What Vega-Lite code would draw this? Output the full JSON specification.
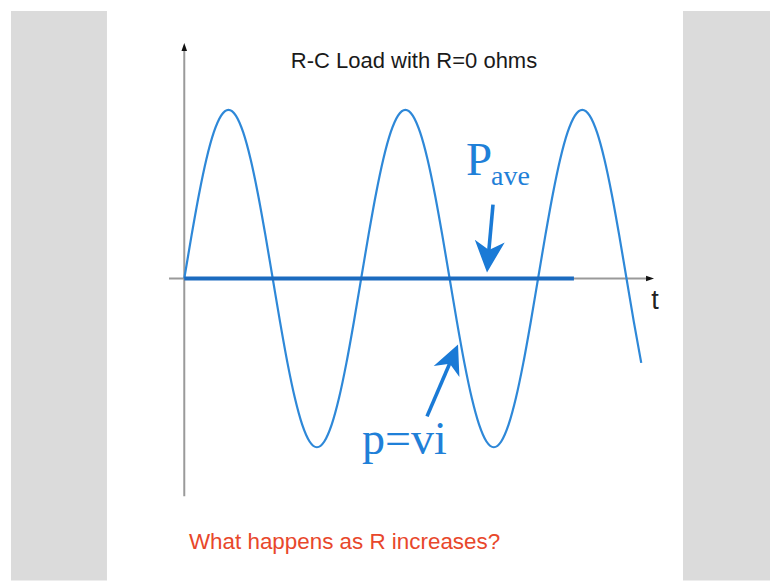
{
  "$schema": "https://vega.github.io/schema/vega-lite/v6.json",
  "width": 770,
  "height": 581,
  "autosize": {"type": "fit", "contains": "padding"},
  "padding": 0,
  "background": "#ffffff",
  "config": {"view": {"stroke": null}},
  "datasets": {
    "panels": [
      {"x": -352.6, "x2": -157.3, "y": 1.586, "y2": -1.79},
      {"x": 1015, "x2": 1192, "y": 1.586, "y2": -1.79}
    ],
    "axes": [
      {"x": 0, "x2": 0, "y": 1.37, "y2": -1.29},
      {"x": -31, "x2": 948, "y": 0, "y2": 0}
    ],
    "yTip": [{"x": 0, "y": 1.396}],
    "tTip": [{"x": 956, "y": 0}],
    "power": [
      {"x": 0, "y": 0}, {"x": 15, "y": 0.2588}, {"x": 30, "y": 0.5}, {"x": 45, "y": 0.7071},
      {"x": 60, "y": 0.866}, {"x": 75, "y": 0.9659}, {"x": 90, "y": 1}, {"x": 105, "y": 0.9659},
      {"x": 120, "y": 0.866}, {"x": 135, "y": 0.7071}, {"x": 150, "y": 0.5}, {"x": 165, "y": 0.2588},
      {"x": 180, "y": 0}, {"x": 195, "y": -0.2588}, {"x": 210, "y": -0.5}, {"x": 225, "y": -0.7071},
      {"x": 240, "y": -0.866}, {"x": 255, "y": -0.9659}, {"x": 270, "y": -1}, {"x": 285, "y": -0.9659},
      {"x": 300, "y": -0.866}, {"x": 315, "y": -0.7071}, {"x": 330, "y": -0.5}, {"x": 345, "y": -0.2588},
      {"x": 360, "y": 0}, {"x": 375, "y": 0.2588}, {"x": 390, "y": 0.5}, {"x": 405, "y": 0.7071},
      {"x": 420, "y": 0.866}, {"x": 435, "y": 0.9659}, {"x": 450, "y": 1}, {"x": 465, "y": 0.9659},
      {"x": 480, "y": 0.866}, {"x": 495, "y": 0.7071}, {"x": 510, "y": 0.5}, {"x": 525, "y": 0.2588},
      {"x": 540, "y": 0}, {"x": 555, "y": -0.2588}, {"x": 570, "y": -0.5}, {"x": 585, "y": -0.7071},
      {"x": 600, "y": -0.866}, {"x": 615, "y": -0.9659}, {"x": 630, "y": -1}, {"x": 645, "y": -0.9659},
      {"x": 660, "y": -0.866}, {"x": 675, "y": -0.7071}, {"x": 690, "y": -0.5}, {"x": 705, "y": -0.2588},
      {"x": 720, "y": 0}, {"x": 735, "y": 0.2588}, {"x": 750, "y": 0.5}, {"x": 765, "y": 0.7071},
      {"x": 780, "y": 0.866}, {"x": 795, "y": 0.9659}, {"x": 810, "y": 1}, {"x": 825, "y": 0.9659},
      {"x": 840, "y": 0.866}, {"x": 855, "y": 0.7071}, {"x": 870, "y": 0.5}, {"x": 885, "y": 0.2588},
      {"x": 900, "y": 0}, {"x": 915, "y": -0.2588}, {"x": 930, "y": -0.5}
    ],
    "average": [{"x": 0, "x2": 793, "y": 0, "y2": 0}],
    "shafts": [
      {"x": 628.3, "y": 0.438, "x2": 619.1, "y2": 0.142},
      {"x": 494, "y": -0.817, "x2": 548.9, "y2": -0.444}
    ],
    "paveHead": [{"x": 616.1, "y": 0.0355}],
    "pviHead": [{"x": 557.1, "y": -0.391}],
    "title": [{"x": 467.5, "y": 1.249, "label": "R-C Load with R=0 ohms"}],
    "tLabel": [{"x": 958, "y": -0.183, "label": "t"}],
    "pMain": [{"x": 573.3, "y": 0.615, "label": "P"}],
    "pSub": [{"x": 624.2, "y": 0.556, "label": "ave"}],
    "pvi": [{"x": 361.8, "y": -1.041, "label": "p=vi"}],
    "question": [{"x": 9.6, "y": -1.604, "label": "What happens as R increases?"}]
  },
  "encoding": {
    "x": {"field": "x", "type": "quantitative", "scale": {"domain": [-375, 1192], "nice": false, "zero": false}, "axis": null},
    "y": {"field": "y", "type": "quantitative", "scale": {"domain": [-1.787, 1.651], "nice": false, "zero": false}, "axis": null}
  },
  "layer": [
    {
      "data": {"name": "panels"},
      "mark": {"type": "rect", "color": "#dbdbdb"},
      "encoding": {"x2": {"field": "x2"}, "y2": {"field": "y2"}}
    },
    {
      "data": {"name": "axes"},
      "mark": {"type": "rule", "color": "#9a9a9a", "strokeWidth": 2},
      "encoding": {"x2": {"field": "x2"}, "y2": {"field": "y2"}}
    },
    {
      "data": {"name": "yTip"},
      "mark": {"type": "point", "shape": "M0,0 L0.7,2 L-0.7,2 Z", "filled": true, "color": "#111111", "opacity": 1, "size": 64, "angle": 0}
    },
    {
      "data": {"name": "tTip"},
      "mark": {"type": "point", "shape": "M0,0 L0.7,2 L-0.7,2 Z", "filled": true, "color": "#111111", "opacity": 1, "size": 64, "angle": 90}
    },
    {
      "data": {"name": "power"},
      "mark": {"type": "line", "color": "#2e88d8", "strokeWidth": 2.2, "interpolate": "monotone"}
    },
    {
      "data": {"name": "average"},
      "mark": {"type": "rule", "color": "#1c6bbf", "strokeWidth": 4},
      "encoding": {"x2": {"field": "x2"}, "y2": {"field": "y2"}}
    },
    {
      "data": {"name": "shafts"},
      "mark": {"type": "rule", "color": "#1a7ad6", "strokeWidth": 3.6},
      "encoding": {"x2": {"field": "x2"}, "y2": {"field": "y2"}}
    },
    {
      "data": {"name": "paveHead"},
      "mark": {"type": "point", "shape": "M0,0 L1,2.1 L0,1.5 L-1,2.1 Z", "filled": true, "color": "#1a7ad6", "opacity": 1, "size": 900, "angle": 185}
    },
    {
      "data": {"name": "pviHead"},
      "mark": {"type": "point", "shape": "M0,0 L1,2.1 L0,1.5 L-1,2.1 Z", "filled": true, "color": "#1a7ad6", "opacity": 1, "size": 780, "angle": 23}
    },
    {
      "data": {"name": "title"},
      "mark": {"type": "text", "font": "Liberation Sans", "fontSize": 22, "color": "#1a1a1a", "align": "center", "baseline": "alphabetic"},
      "encoding": {"text": {"field": "label"}}
    },
    {
      "data": {"name": "tLabel"},
      "mark": {"type": "text", "font": "Liberation Sans", "fontSize": 27, "color": "#222222", "align": "center", "baseline": "alphabetic"},
      "encoding": {"text": {"field": "label"}}
    },
    {
      "data": {"name": "pMain"},
      "mark": {"type": "text", "font": "Liberation Serif", "fontSize": 47, "color": "#1f80d8", "align": "left", "baseline": "alphabetic"},
      "encoding": {"text": {"field": "label"}}
    },
    {
      "data": {"name": "pSub"},
      "mark": {"type": "text", "font": "Liberation Serif", "fontSize": 28, "color": "#1f80d8", "align": "left", "baseline": "alphabetic"},
      "encoding": {"text": {"field": "label"}}
    },
    {
      "data": {"name": "pvi"},
      "mark": {"type": "text", "font": "Liberation Serif", "fontSize": 46, "color": "#1f80d8", "align": "left", "baseline": "alphabetic"},
      "encoding": {"text": {"field": "label"}}
    },
    {
      "data": {"name": "question"},
      "mark": {"type": "text", "font": "Liberation Sans", "fontSize": 22.4, "color": "#e8472b", "align": "left", "baseline": "alphabetic"},
      "encoding": {"text": {"field": "label"}}
    }
  ]
}
